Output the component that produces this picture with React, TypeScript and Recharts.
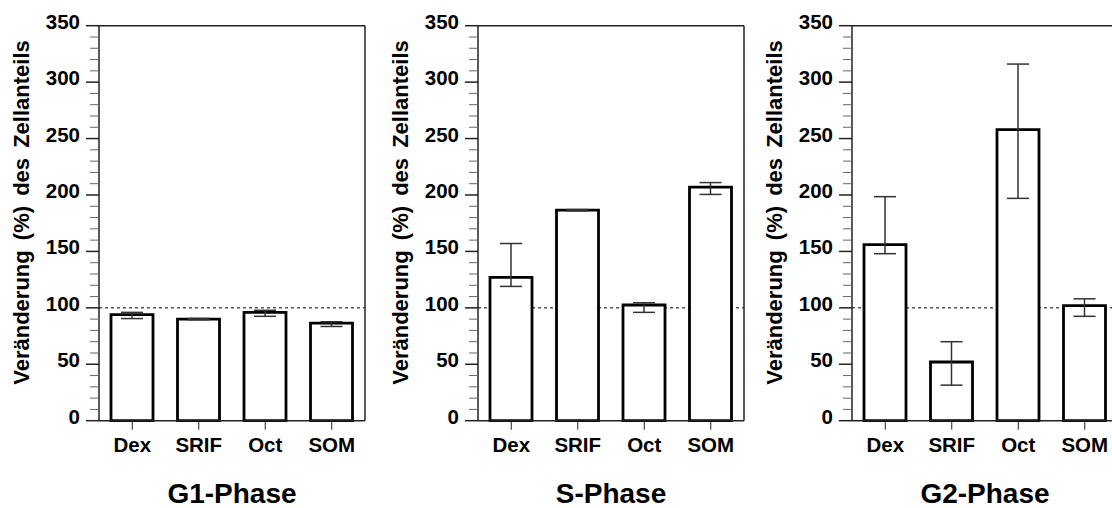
import { BarChart, Bar, XAxis, YAxis, CartesianGrid, ErrorBar, ReferenceLine } from 'recharts'

const FONT = '"Liberation Sans", Arial, Helvetica, sans-serif'

const categories = ['Dex', 'SRIF', 'Oct', 'SOM']
const yTicks = [0, 10, 20, 30, 40, 50, 60, 70, 80, 90, 100, 110, 120, 130, 140, 150, 160, 170, 180, 190, 200, 210, 220, 230, 240, 250, 260, 270, 280, 290, 300, 310, 320, 330, 340, 350]
const yLabel = 'Veränderung (%) des Zellanteils'

// G1-Phase
const g1Values = [94, 90, 96, 86.5]
const g1ErrDown = [3.5, 0.6, 3.5, 3]
const g1ErrUp = [2, 0.6, 1.8, 1.2]

// S-Phase
const sValues = [127, 186.5, 102.5, 207]
const sErrDown = [8, 0.6, 6.5, 6.5]
const sErrUp = [30, 0.6, 2, 4]

// G2-Phase
const g2Values = [156, 52, 258, 102]
const g2ErrDown = [8, 20.5, 61, 9.5]
const g2ErrUp = [42.5, 18, 58, 6]

const build = (values: number[], down: number[], up: number[]) =>
  categories.map((name, i) => ({ name, value: values[i], err: [down[i], up[i]] }))

const YTick = ({ x, y, payload }: any) => {
  const major = payload.value % 50 === 0
  return (
    <g>
      <line x1={x - (major ? 13 : 9)} y1={y} x2={x} y2={y} stroke={major ? '#222' : '#666'} strokeWidth={major ? 1.5 : 1} />
      {major && (
        <text x={x - 19} y={y + 3} textAnchor="end" fontFamily={FONT} fontWeight="bold" fontSize={20.5} fill="#000">
          {payload.value}
        </text>
      )}
    </g>
  )
}

const XTick = ({ x, y, payload }: any) => (
  <text x={x} y={y + 14.5} textAnchor="middle" fontFamily={FONT} fontWeight="bold" fontSize={20.5} fill="#000">
    {payload.value}
  </text>
)

function Panel({ data, title }: { data: any[]; title: string }) {
  return (
    <BarChart width={370} height={508} data={data} margin={{ top: 25.7, right: 0, bottom: 0, left: 0 }} barSize={42}>
      <CartesianGrid horizontalValues={[100]} vertical={false} stroke="#000" strokeDasharray="3 3" />
      <ReferenceLine y={350} stroke="#222" strokeWidth={1.5} />
      <XAxis
        dataKey="name"
        height={87.3}
        interval={0}
        tickSize={9}
        tickMargin={8}
        axisLine={{ stroke: '#222', strokeWidth: 1.5 }}
        tickLine={{ stroke: '#222' }}
        tick={XTick}
        label={(p: any) => {
          const vb = p.viewBox
          return (
            <text x={vb.x + vb.width / 2} y={vb.y + vb.height - 5} textAnchor="middle" fontFamily={FONT} fontWeight="bold" fontSize={28} fill="#000">
              {title}
            </text>
          )
        }}
      />
      <YAxis
        width={98}
        domain={[0, 350]}
        ticks={yTicks}
        interval={0}
        tickSize={0}
        tickMargin={0}
        tickLine={false}
        axisLine={{ stroke: '#222', strokeWidth: 1.5 }}
        tick={YTick}
        label={(p: any) => {
          const vb = p.viewBox
          const x = vb.x + vb.width - 70
          const y = 212.5
          return (
            <text x={x} y={y} transform={`rotate(-90, ${x}, ${y})`} textAnchor="middle" fontFamily={FONT} fontWeight="bold" fontSize={22} wordSpacing={4} fill="#000">
              {yLabel}
            </text>
          )
        }}
      />
      <YAxis yAxisId="r" orientation="right" width={6} domain={[0, 350]} tick={false} tickLine={false} axisLine={{ stroke: '#222', strokeWidth: 1.5 }} />
      <Bar dataKey="value" fill="#fff" stroke="#000" strokeWidth={2.8} isAnimationActive={false}>
        <ErrorBar dataKey="err" width={11} stroke="#333" strokeWidth={1.5} direction="y" />
      </Bar>
    </BarChart>
  )
}

const panels = [
  { title: 'G1-Phase', left: 0.5, data: build(g1Values, g1ErrDown, g1ErrUp) },
  { title: 'S-Phase', left: 379.7, data: build(sValues, sErrDown, sErrUp) },
  { title: 'G2-Phase', left: 754.3, data: build(g2Values, g2ErrDown, g2ErrUp) },
]

export default function App() {
  return (
    <div style={{ position: 'absolute', left: 0, top: 0, width: 1112, height: 508, overflow: 'hidden', background: '#fff' }}>
      {panels.map((p) => (
        <div key={p.title} style={{ position: 'absolute', left: p.left, top: 0 }}>
          <Panel data={p.data} title={p.title} />
        </div>
      ))}
    </div>
  )
}
